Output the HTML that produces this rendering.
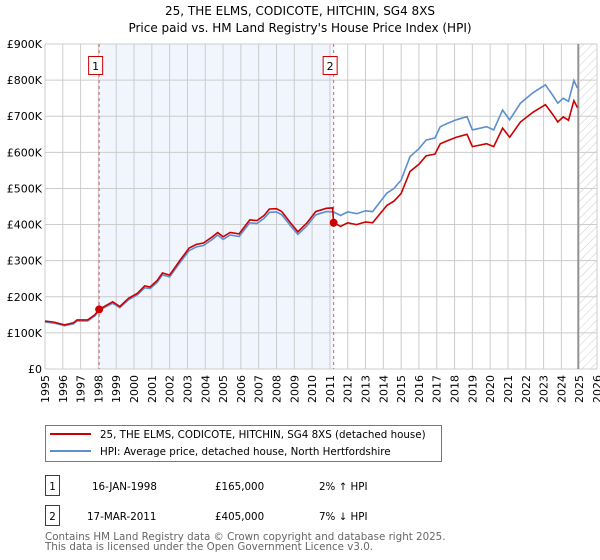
<!DOCTYPE html>
<html><head><meta charset="utf-8"><style>
body{margin:0;background:#fff}
svg{display:block;font-family:"DejaVu Sans","Liberation Sans",sans-serif}
</style></head><body>
<svg id="chart" width="600" height="560" viewBox="0 0 600 560">
<defs>
<pattern id="hatch" width="6" height="6" patternUnits="userSpaceOnUse" patternTransform="rotate(45)">
<line x1="0" y1="0" x2="0" y2="6" stroke="#ccc" stroke-width="1"/>
</pattern>
</defs>
<text x="300" y="15" text-anchor="middle" font-size="12" fill="#000">25, THE ELMS, CODICOTE, HITCHIN, SG4 8XS</text>
<text x="300" y="32" text-anchor="middle" font-size="12" fill="#000">Price paid vs. HM Land Registry's House Price Index (HPI)</text>
<g id="plot"></g>
<g>
<rect x="45.5" y="425.5" width="396" height="36" fill="#fff" stroke="#777"/>
<line x1="50" y1="434" x2="91" y2="434" stroke="#cc0000" stroke-width="2"/>
<text x="100" y="438" font-size="10.3">25, THE ELMS, CODICOTE, HITCHIN, SG4 8XS (detached house)</text>
<line x1="50" y1="451" x2="91" y2="451" stroke="#5b8fd0" stroke-width="2"/>
<text x="100" y="455" font-size="10.3">HPI: Average price, detached house, North Hertfordshire</text>
</g>
<g>
<rect x="45.5" y="475.5" width="14" height="20" fill="#fff" stroke="#cc0000"/>
<text x="52.5" y="490" text-anchor="middle" font-size="10.3">1</text>
<text x="92" y="490" font-size="10.3">16-JAN-1998</text>
<text x="215" y="490" font-size="10.3">£165,000</text>
<text x="319" y="490" font-size="10.3">2% ↑ HPI</text>
<rect x="45.5" y="505.5" width="14" height="20" fill="#fff" stroke="#cc0000"/>
<text x="52.5" y="520" text-anchor="middle" font-size="10.3">2</text>
<text x="87" y="520" font-size="10.3">17-MAR-2011</text>
<text x="215" y="520" font-size="10.3">£405,000</text>
<text x="319" y="520" font-size="10.3">7% ↓ HPI</text>
</g>
<text x="45" y="540" font-size="10.3" fill="#666">Contains HM Land Registry data © Crown copyright and database right 2025.</text>
<text x="45" y="550" font-size="10.3" fill="#666">This data is licensed under the Open Government Licence v3.0.</text>
</svg>
<script>
const yTickValues=[0,100,200,300,400,500,600,700,800,900];
const yTickLabels=["£0","£100K","£200K","£300K","£400K","£500K","£600K","£700K","£800K","£900K"];
const xTickYears=[1995,1996,1997,1998,1999,2000,2001,2002,2003,2004,2005,2006,2007,2008,2009,2010,2011,2012,2013,2014,2015,2016,2017,2018,2019,2020,2021,2022,2023,2024,2025,2026];
const redTimes=[1995.0,1995.5,1996.1,1996.6,1996.8,1997.4,1997.8,1998.04,1998.4,1998.8,1999.2,1999.7,2000.2,2000.6,2000.9,2001.3,2001.6,2002.0,2002.6,2003.1,2003.5,2003.9,2004.4,2004.7,2005.0,2005.4,2005.9,2006.5,2006.9,2007.3,2007.6,2008.0,2008.3,2008.8,2009.2,2009.7,2010.2,2010.8,2011.15,2011.21,2011.6,2012.0,2012.5,2013.0,2013.4,2014.2,2014.6,2015.0,2015.5,2016.0,2016.4,2016.9,2017.2,2017.6,2018.1,2018.7,2019.0,2019.8,2020.2,2020.7,2021.1,2021.7,2022.4,2023.1,2023.5,2023.8,2024.1,2024.4,2024.7,2024.9];
const redValues=[133,130,122,128,136,136,150,165,175,186,173,196,210,230,227,245,266,260,302,335,345,349,366,378,366,378,374,413,411,425,443,444,436,404,380,404,436,445,446,405,395,405,400,407,405,453,465,486,547,567,590,595,624,632,642,650,616,624,616,667,642,684,711,732,706,684,698,689,743,724];
const hpiTimes=[1995.0,1995.5,1996.1,1996.6,1996.8,1997.4,1997.8,1998.04,1998.4,1998.8,1999.2,1999.7,2000.2,2000.6,2000.9,2001.3,2001.6,2002.0,2002.6,2003.1,2003.5,2003.9,2004.4,2004.7,2005.0,2005.4,2005.9,2006.5,2006.9,2007.3,2007.6,2008.0,2008.3,2008.8,2009.2,2009.7,2010.2,2010.8,2011.21,2011.6,2012.0,2012.5,2013.0,2013.4,2014.2,2014.6,2015.0,2015.5,2016.0,2016.4,2016.9,2017.2,2017.6,2018.1,2018.7,2019.0,2019.8,2020.2,2020.7,2021.1,2021.7,2022.4,2023.1,2023.5,2023.8,2024.1,2024.4,2024.7,2024.9];
const hpiValues=[130,127,120,125,133,133,147,162,172,182,170,192,206,225,223,240,261,255,296,328,338,342,359,371,359,371,367,405,403,417,434,435,427,396,373,396,427,436,435,425,435,430,438,436,487,500,523,588,610,634,640,671,680,690,699,662,671,662,717,690,736,765,787,759,736,750,741,799,778];
const saleTimes=[1998.04,2011.21];
const salePrices=[165,405];
const saleLabels=["1","2"];
const dataEndYear=2024.94;

const NS="http://www.w3.org/2000/svg";
const X0=45,X1=597,Y0=369,Y1=44;
function xs(t){return X0+(t-1995)/(2026-1995)*(X1-X0);}
function ys(v){return Y0-v/900*(Y0-Y1);}
const g=document.getElementById('plot');
function mk(tag,attrs){const e=document.createElementNS(NS,tag);for(const k in attrs)e.setAttribute(k,attrs[k]);g.appendChild(e);return e;}

let sh=mk('rect',{x:xs(saleTimes[0]),y:Y1,width:xs(saleTimes[1])-xs(saleTimes[0]),height:Y0-Y1,fill:'#eef3fc',opacity:0.8});


let ht=mk('rect',{x:xs(dataEndYear),y:Y1,width:X1-xs(dataEndYear),height:Y0-Y1,fill:'url(#hatch)'});



yTickValues.forEach((v,i)=>{
  const l=mk('line',{x1:X0,x2:X1,y1:ys(v),y2:ys(v),stroke:'#ccc','stroke-width':1});
  
  
  const t=mk('text',{x:X0-3,y:ys(v)+4,'text-anchor':'end','font-size':11});
  t.textContent=yTickLabels[i];
  
  
});
xTickYears.forEach(yr=>{
  const l=mk('line',{x1:xs(yr),x2:xs(yr),y1:Y1,y2:Y0,stroke:'#ccc','stroke-width':1});
  
  
  const px=xs(yr)+4, py=Y0+6;
  const t=mk('text',{x:px,y:py,'text-anchor':'end','font-size':11,transform:'rotate(-90 '+px+' '+py+')'});
  t.textContent=yr;
  
  
});
let el=mk('line',{x1:xs(dataEndYear),x2:xs(dataEndYear),y1:Y1,y2:Y0,stroke:'#888','stroke-width':1.5});



saleTimes.forEach((t,i)=>{
  const l=mk('line',{x1:xs(t),x2:xs(t),y1:Y1,y2:Y0,stroke:'#e06060','stroke-width':1,'stroke-dasharray':'3,3'});
  
  
  const b=mk('rect',{x:xs(t)-10.5,y:56.5,width:14,height:18,fill:'#fff',stroke:'#cc0000'});
  
  
  const tx=mk('text',{x:xs(t)-3.5,y:70,'text-anchor':'middle','font-size':11});
  tx.textContent=saleLabels[i];
  
  
});

function path(times,vals){return times.map((t,i)=>(i?'L':'M')+xs(t).toFixed(1)+','+ys(vals[i]).toFixed(1)).join(' ');}
let hp=mk('path',{d:path(hpiTimes,hpiValues),fill:'none',stroke:'#5b8fd0','stroke-width':1.6});


let rp=mk('path',{d:path(redTimes,redValues),fill:'none',stroke:'#cc0000','stroke-width':1.6});


saleTimes.forEach((t,i)=>{
  const c=mk('circle',{cx:xs(t),cy:ys(salePrices[i]),r:4,fill:'#cc0000'});
  
  
});
</script>
</body></html>
